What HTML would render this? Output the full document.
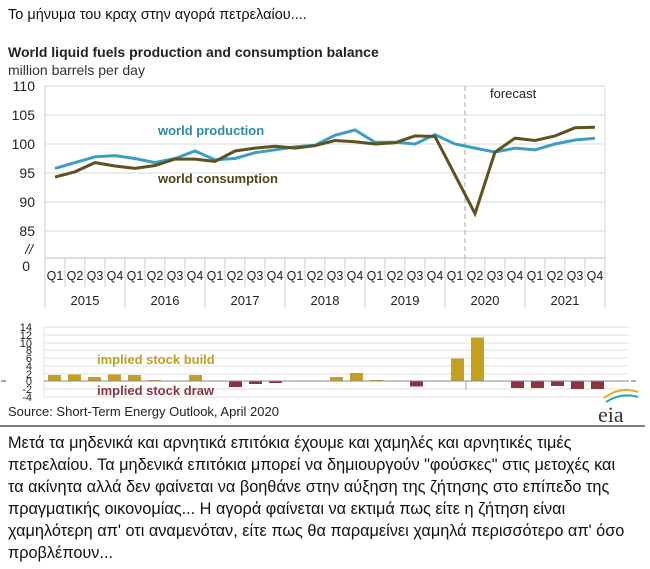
<!DOCTYPE html>
<html><head><meta charset="utf-8"><style>
body{margin:0;background:#fff;width:650px;height:569px;overflow:hidden;font-family:"Liberation Sans",sans-serif}
svg{position:absolute;left:0;top:0}
.p{position:absolute;left:8px;top:432px;white-space:nowrap;font-family:"Liberation Sans","DejaVu Sans",sans-serif;font-size:16.3px;line-height:22px;color:#111}
</style></head><body>
<svg width="650" height="430" viewBox="0 0 650 430" font-family="Liberation Sans, DejaVu Sans, sans-serif">
<text x="8" y="19" font-size="14.5" fill="#111">Το μήνυμα του κραχ στην αγορά πετρελαίου....</text>
<text x="8" y="57" font-size="14" font-weight="bold" fill="#222">World liquid fuels production and consumption balance</text>
<text x="8" y="75" font-size="14" fill="#333">million barrels per day</text>
<g stroke="#d9d9d9" stroke-width="1">
<line x1="45" y1="86" x2="605" y2="86"/><line x1="45" y1="115" x2="605" y2="115"/><line x1="45" y1="144" x2="605" y2="144"/><line x1="45" y1="173" x2="605" y2="173"/><line x1="45" y1="202" x2="605" y2="202"/><line x1="45" y1="231" x2="605" y2="231"/>
<line x1="605" y1="86" x2="605" y2="258"/>
</g>
<g font-size="14" fill="#222" text-anchor="end">
<text x="35" y="91">110</text><text x="35" y="120">105</text><text x="35" y="149">100</text><text x="35" y="178">95</text><text x="35" y="207">90</text><text x="35" y="236">85</text><text x="33" y="254" font-style="italic">//</text><text x="30" y="271">0</text>
</g>
<line x1="465" y1="86" x2="465" y2="258" stroke="#aaa" stroke-dasharray="5,3"/>
<text x="490" y="98" font-size="13" fill="#222">forecast</text>
<line x1="45" y1="258" x2="605" y2="258" stroke="#bbb"/>
<g stroke="#ccc">
<line x1="45" y1="86" x2="45" y2="308"/>
<line x1="65" y1="258" x2="65" y2="287"/><line x1="85" y1="258" x2="85" y2="287"/><line x1="105" y1="258" x2="105" y2="287"/><line x1="125" y1="258" x2="125" y2="308"/>
<line x1="145" y1="258" x2="145" y2="287"/><line x1="165" y1="258" x2="165" y2="287"/><line x1="185" y1="258" x2="185" y2="287"/><line x1="205" y1="258" x2="205" y2="308"/>
<line x1="225" y1="258" x2="225" y2="287"/><line x1="245" y1="258" x2="245" y2="287"/><line x1="265" y1="258" x2="265" y2="287"/><line x1="285" y1="258" x2="285" y2="308"/>
<line x1="305" y1="258" x2="305" y2="287"/><line x1="325" y1="258" x2="325" y2="287"/><line x1="345" y1="258" x2="345" y2="287"/><line x1="365" y1="258" x2="365" y2="308"/>
<line x1="385" y1="258" x2="385" y2="287"/><line x1="405" y1="258" x2="405" y2="287"/><line x1="425" y1="258" x2="425" y2="287"/><line x1="445" y1="258" x2="445" y2="308"/>
<line x1="465" y1="258" x2="465" y2="287"/><line x1="485" y1="258" x2="485" y2="287"/><line x1="505" y1="258" x2="505" y2="287"/><line x1="525" y1="258" x2="525" y2="308"/>
<line x1="545" y1="258" x2="545" y2="287"/><line x1="565" y1="258" x2="565" y2="287"/><line x1="585" y1="258" x2="585" y2="287"/><line x1="605" y1="258" x2="605" y2="308"/>
</g>
<g font-size="12.5" fill="#222" text-anchor="middle">
<text x="55" y="280">Q1</text><text x="75" y="280">Q2</text><text x="95" y="280">Q3</text><text x="115" y="280">Q4</text>
<text x="135" y="280">Q1</text><text x="155" y="280">Q2</text><text x="175" y="280">Q3</text><text x="195" y="280">Q4</text>
<text x="215" y="280">Q1</text><text x="235" y="280">Q2</text><text x="255" y="280">Q3</text><text x="275" y="280">Q4</text>
<text x="295" y="280">Q1</text><text x="315" y="280">Q2</text><text x="335" y="280">Q3</text><text x="355" y="280">Q4</text>
<text x="375" y="280">Q1</text><text x="395" y="280">Q2</text><text x="415" y="280">Q3</text><text x="435" y="280">Q4</text>
<text x="455" y="280">Q1</text><text x="475" y="280">Q2</text><text x="495" y="280">Q3</text><text x="515" y="280">Q4</text>
<text x="535" y="280">Q1</text><text x="555" y="280">Q2</text><text x="575" y="280">Q3</text><text x="595" y="280">Q4</text>
</g>
<g font-size="13" fill="#222" text-anchor="middle">
<text x="85" y="305">2015</text><text x="165" y="305">2016</text><text x="245" y="305">2017</text><text x="325" y="305">2018</text><text x="405" y="305">2019</text><text x="485" y="305">2020</text><text x="565" y="305">2021</text>
</g>
<polyline fill="none" stroke="#3a9fc0" stroke-width="3" points="55,168.4 75,162.6 95,156.8 115,155.6 135,158.5 155,162.6 175,158.5 195,151 215,159.7 235,158.5 255,152.7 275,149.8 295,146.9 315,145.2 335,135.3 355,130 375,142.3 395,142.3 415,144 435,134.7 455,144 475,148.1 495,152.1 515,148.1 535,149.8 555,144 575,140 595,138.2"/>
<polyline fill="none" stroke="#5e5220" stroke-width="3" points="55,177.1 75,171.8 95,162.6 115,166 135,168.4 155,165.5 175,159.1 195,159.1 215,161.4 235,151 255,148.1 275,146.3 295,148.1 315,145.7 335,140.5 355,141.7 375,144 395,142.8 415,135.9 435,136.5 455,175 475,213.6 495,152.1 515,138.2 535,140.5 555,135.9 575,127.8 595,127.2"/>
<text x="158" y="135" font-size="13" font-weight="bold" fill="#2e8aa6">world production</text>
<text x="158" y="183" font-size="13" font-weight="bold" fill="#4f4418">world consumption</text>
<g stroke="#e0e0e0">
<line x1="44" y1="327" x2="629" y2="327"/><line x1="44" y1="335" x2="629" y2="335"/><line x1="44" y1="343" x2="629" y2="343"/><line x1="44" y1="350" x2="629" y2="350"/><line x1="44" y1="358" x2="629" y2="358"/><line x1="44" y1="366" x2="629" y2="366"/><line x1="44" y1="374" x2="629" y2="374"/><line x1="44" y1="389" x2="629" y2="389"/><line x1="44" y1="397" x2="629" y2="397"/>
<line x1="44" y1="327" x2="44" y2="397"/>
</g>
<g font-size="11" fill="#222" text-anchor="end">
<text x="32" y="331">14</text><text x="32" y="339">12</text><text x="32" y="347">10</text><text x="32" y="354">8</text><text x="32" y="362">6</text><text x="32" y="370">4</text><text x="32" y="378">2</text><text x="32" y="385">0</text><text x="32" y="393">-2</text><text x="32" y="401">-4</text>
</g>
<g fill="#c4a01e">
<rect x="48" y="375" width="13" height="6"/><rect x="68" y="374.5" width="13" height="6.5"/><rect x="88" y="377" width="13" height="4"/><rect x="108" y="374.5" width="13" height="6.5"/><rect x="128" y="375" width="13" height="6"/><rect x="148" y="380" width="13" height="1"/><rect x="189" y="375" width="13" height="6"/><rect x="330" y="377" width="13" height="4"/><rect x="350" y="373" width="13" height="8"/><rect x="370" y="380" width="13" height="1"/><rect x="451" y="358.5" width="13" height="22.5"/><rect x="471" y="337.5" width="13" height="43.5"/>
</g>
<g fill="#8c3444">
<rect x="229" y="381" width="13" height="6"/><rect x="249" y="381" width="13" height="3"/><rect x="269" y="381" width="13" height="2"/><rect x="410" y="381" width="13" height="5.5"/><rect x="511" y="381" width="13" height="7"/><rect x="531" y="381" width="13" height="7"/><rect x="551" y="381" width="13" height="5"/><rect x="571" y="381" width="13" height="8"/><rect x="591" y="381" width="13" height="8"/>
</g>
<line x1="0" y1="381" x2="645" y2="381" stroke="#555" stroke-dasharray="5,40" stroke-dashoffset="-1"/>
<line x1="44" y1="381" x2="629" y2="381" stroke="#888"/>
<line x1="466" y1="381" x2="466" y2="390" stroke="#aaa"/>
<text x="97" y="364" font-size="13" font-weight="bold" fill="#c4a01e">implied stock  build</text>
<text x="97" y="395" font-size="13" font-weight="bold" fill="#8c3444">implied stock draw</text>
<text x="8" y="416" font-size="13" fill="#222">Source: Short-Term Energy Outlook, April 2020</text>
<path d="M604 398 Q620 386 638 392" fill="none" stroke="#e0b020" stroke-width="2"/>
<path d="M606 402 Q621 392 638 397" fill="none" stroke="#2a9fc0" stroke-width="2"/>
<text x="598" y="422" font-size="22" font-family="Liberation Serif, serif" fill="#333">eia</text>
<line x1="0" y1="426" x2="645" y2="426" stroke="#555" stroke-width="1.5"/>
</svg>
<div class="p">Μετά τα μηδενικά και αρνητικά επιτόκια έχουμε και χαμηλές και αρνητικές τιμές<br>πετρελαίου. Τα μηδενικά επιτόκια μπορεί να δημιουργούν "φούσκες" στις μετοχές και<br>τα ακίνητα αλλά δεν φαίνεται να βοηθάνε στην αύξηση της ζήτησης στο επίπεδο της<br>πραγματικής οικονομίας... Η αγορά φαίνεται να εκτιμά πως είτε η ζήτηση είναι<br>χαμηλότερη απ' οτι αναμενόταν, είτε πως θα παραμείνει χαμηλά περισσότερο απ' όσο<br>προβλέπουν...</div>
</body></html>
